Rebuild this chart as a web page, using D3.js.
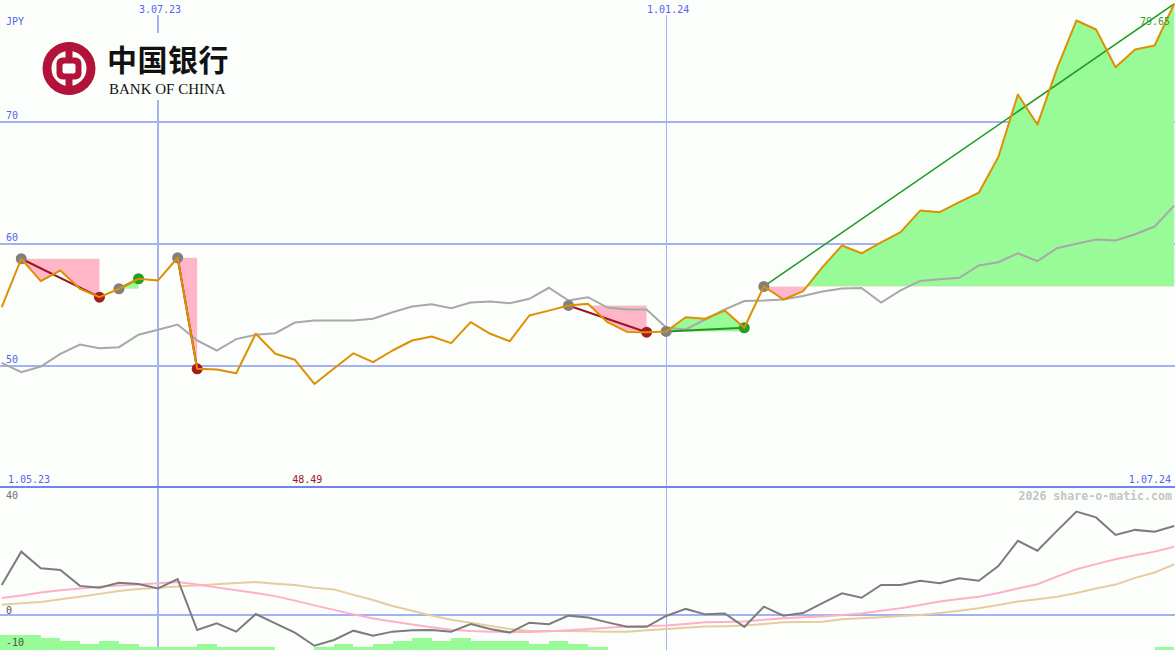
<!DOCTYPE html>
<html>
<head>
<meta charset="utf-8">
<script src="https://cdn.jsdelivr.net/npm/d3@7"></script>
<style>
  body { margin: 0; background: #fbfefb; }
  text { font-family: "DejaVu Sans Mono", monospace; }
</style>
</head>
<body>
<div id="chart"></div>
<script>
const width = 1175;
const height = 650;

// weekly closes, JPY
const price = [54.78, 58.75, 56.91, 57.79, 56.29, 55.6, 56.29, 57.11, 56.97, 58.83,
  49.73, 49.67, 49.37, 52.6, 50.96, 50.47, 48.49, 49.75, 51.0, 50.27,
  51.23, 52.05, 52.38, 51.83, 53.55, 52.6, 51.99, 54.1, 54.5, 54.92,
  55.06, 53.55, 52.75, 52.73, 52.79, 53.96, 53.83, 54.5, 53.09, 56.48,
  55.41, 56.07, 58.06, 59.84, 59.2, 60.1, 60.93, 62.7, 62.57, 63.39,
  64.16, 67.09, 72.21, 69.75, 74.34, 78.28, 77.54, 74.45, 75.9, 76.23,
  79.65];

const average = [50.22, 49.45, 49.92, 50.96, 51.72, 51.42, 51.5, 52.52, 52.93, 53.36,
  52.05, 51.23, 52.16, 52.52, 52.65, 53.52, 53.69, 53.69, 53.69, 53.83,
  54.37, 54.84, 55.02, 54.7, 55.16, 55.25, 55.11, 55.47, 56.37, 55.33,
  55.6, 54.75, 54.59, 54.59, 53.11, 52.95, 53.77, 54.59, 55.29, 55.33,
  55.41, 55.7, 56.07, 56.31, 56.35, 55.16, 56.15, 56.93, 57.07, 57.19,
  58.2, 58.47, 59.2, 58.55, 59.61, 59.98, 60.33, 60.25, 60.76, 61.39,
  63.11];

const momentum = [9.4, 19.8, 14.6, 14.1, 9.1, 8.5, 10.1, 9.7, 8.3, 11.2,
  -4.7, -2.6, -5.2, 0.3, -2.6, -5.5, -9.6, -7.8, -4.9, -6.5,
  -5.2, -4.8, -4.7, -5.2, -2.8, -4.4, -5.5, -2.4, -2.9, -0.2,
  -0.8, -2.3, -3.7, -3.7, -0.3, 1.9, 0.2, 0.5, -3.7, 2.6,
  -0.2, 0.6, 3.7, 6.8, 5.4, 9.4, 9.4, 10.7, 9.9, 11.5,
  10.7, 15.3, 23.2, 20.1, 26.3, 32.3, 30.5, 25.0, 26.6, 26.0,
  27.8];

const fastLine = [5.3, 6.1, 7.0, 7.7, 8.3, 8.8, 9.2, 9.5, 9.9, 10.3,
  9.5, 8.6, 7.7, 6.9, 5.9, 4.5, 3.0, 1.6, 0.2, -1.1,
  -2.0, -3.0, -3.8, -4.6, -5.0, -5.2, -5.3, -5.3, -5.1, -4.8,
  -4.4, -4.0, -3.6, -3.4, -3.3, -2.8, -2.3, -2.2, -2.0, -1.5,
  -1.0, -0.7, -0.5, 0.0, 0.5, 1.3, 2.1, 3.1, 4.2, 5.0,
  5.7, 6.9, 8.3, 9.6, 12.0, 14.3, 15.9, 17.4, 18.7, 19.8,
  21.3];

const slowLine = [3.2, 3.7, 4.1, 4.9, 5.7, 6.6, 7.5, 8.1, 8.5, 8.9,
  9.2, 9.6, 10.0, 10.3, 9.8, 9.4, 8.5, 8.0, 6.3, 4.7,
  2.8, 1.3, -0.2, -1.5, -2.4, -3.4, -4.4, -5.0, -5.0, -5.0,
  -5.1, -5.2, -5.2, -4.8, -4.4, -4.0, -3.6, -3.5, -3.3, -2.8,
  -2.3, -2.2, -2.1, -1.3, -1.0, -0.7, -0.3, 0.0, 0.6, 1.3,
  2.1, 3.1, 4.2, 4.9, 5.7, 6.9, 8.3, 9.5, 11.6, 13.3,
  15.8];

const bars = [5, 5, 5, 4, 3, 2, 3, 2, 1, 1,
  1, 2, 1, 1, 1, 0, 0, 1, 2, 1,
  2, 3, 4, 3, 4, 3, 3, 3, 2, 3,
  2, 1, 0, 0, 0, 0, 0, 0, 0, 0,
  0, 0, 0, 0, 0, 0, 0, 0, 0, 0,
  0, 0, 0, 0, 0, 0, 0, 0, 0, 0,
  1];

// entry / exit as positions in the weekly series
const trades = [
  { from: 1, to: 5 },
  { from: 6, to: 7 },
  { from: 9, to: 10 },
  { from: 29, to: 33 },
  { from: 34, to: 38 },
  { from: 39, to: 60, open: true }
];

const priceTicks = [50, 60, 70];
const lowerTicks = [40, 0, -10];
const dateTicks = [new Date(Date.UTC(2023, 6, 3)), new Date(Date.UTC(2024, 0, 1))];
const dateTickLabels = ["3.07.23", "1.01.24"];

const startDate = new Date(Date.UTC(2023, 4, 1));
const endDate = new Date(Date.UTC(2024, 6, 1));
const dates = price.map((_, i) => d3.utcDay.offset(startDate, 7 * (i + 1)));

const grid = "#a4b2f2";
const blue = "#5464f0";
const green = "#98fb98";
const pink = "#ffb6c8";

const x = d3.scaleUtc().domain([startDate, endDate]).range([-17.8, 1174.2]);
const y = d3.scaleLinear().domain([50, 70]).range([365.5, 121.5]);
const y2 = d3.scaleLinear().domain([-10, 40]).range([647, 487]);
const yBar = d3.scaleLinear().domain([0, 5]).range([650, 635]);

const svg = d3.select("#chart").append("svg")
  .attr("width", width).attr("height", height)
  .style("display", "block");

svg.append("rect").attr("width", width).attr("height", height).attr("fill", "#fbfefb");

// grid
const gridG = svg.append("g").attr("shape-rendering", "crispEdges");
gridG.selectAll(".hg").data(priceTicks).join("line")
  .attr("x1", 0).attr("x2", width)
  .attr("y1", d => y(d)).attr("y2", d => y(d))
  .attr("stroke", grid).attr("stroke-width", 2);
gridG.append("line")
  .attr("x1", 0).attr("x2", width).attr("y1", y2(0)).attr("y2", y2(0))
  .attr("stroke", grid).attr("stroke-width", 2);
gridG.selectAll(".vg").data(dateTicks).join("line")
  .attr("x1", d => x(d)).attr("x2", d => x(d))
  .attr("y1", 15).attr("y2", height)
  .attr("stroke", grid).attr("stroke-width", (d, i) => i === 0 ? 2 : 1);
gridG.append("line")
  .attr("x1", 0).attr("x2", width).attr("y1", 487).attr("y2", 487)
  .attr("stroke", "#7282f0").attr("stroke-width", 2);

// trade areas
const defs = svg.append("defs");
const areaG = svg.append("g");
trades.forEach((t, k) => {
  const idx = d3.range(t.from, t.to + 1);
  const level = y(price[t.from]);
  defs.append("clipPath").attr("id", `up${k}`)
    .append("rect").attr("x", 0).attr("y", 0).attr("width", width).attr("height", level);
  defs.append("clipPath").attr("id", `dn${k}`)
    .append("rect").attr("x", 0).attr("y", level).attr("width", width).attr("height", 487 - level);
  const area = d3.area()
    .x(i => x(dates[i]))
    .y0(level)
    .y1(i => y(price[i]));
  areaG.append("path").attr("d", area(idx)).attr("fill", green).attr("clip-path", `url(#up${k})`);
  areaG.append("path").attr("d", area(idx)).attr("fill", pink).attr("clip-path", `url(#dn${k})`);
});

const line = (arr, sy) => d3.line().x((d, i) => x(dates[i])).y(d => sy(d))(arr);

// average line
svg.append("path").attr("d", line(average, y))
  .attr("fill", "none").attr("stroke", "#a8a8a8").attr("stroke-width", 2);

// trade lines
trades.forEach(t => {
  const win = price[t.to] >= price[t.from];
  svg.append("line")
    .attr("x1", x(dates[t.from])).attr("y1", y(price[t.from]))
    .attr("x2", x(dates[t.to])).attr("y2", y(price[t.to]))
    .attr("stroke", win ? "#1e9a1e" : "#a01424")
    .attr("stroke-width", t.open ? 1.5 : 2);
});

// markers
const dots = [];
trades.forEach(t => {
  dots.push({ i: t.from, c: "#808080" });
  if (!t.open) dots.push({ i: t.to, c: price[t.to] >= price[t.from] ? "#22a022" : "#a41c1c" });
});
svg.selectAll(".dot").data(dots).join("circle")
  .attr("cx", d => x(dates[d.i])).attr("cy", d => y(price[d.i]))
  .attr("r", 5.5).attr("fill", d => d.c);

// price
svg.append("path").attr("d", line(price, y))
  .attr("fill", "none").attr("stroke", "#dd9000").attr("stroke-width", 2)
  .attr("stroke-linejoin", "round");

// lower panel
svg.selectAll(".bar").data(bars).join("rect")
  .attr("x", (d, i) => x(d3.utcDay.offset(dates[i], -7)))
  .attr("width", (d, i) => x(dates[i]) - x(d3.utcDay.offset(dates[i], -7)))
  .attr("y", d => yBar(d))
  .attr("height", d => yBar(0) - yBar(d))
  .attr("fill", green)
  .attr("shape-rendering", "crispEdges");

svg.append("path").attr("d", line(slowLine, y2))
  .attr("fill", "none").attr("stroke", "#e6cc9e").attr("stroke-width", 2);
svg.append("path").attr("d", line(fastLine, y2))
  .attr("fill", "none").attr("stroke", "#ffb0c8").attr("stroke-width", 2);
svg.append("path").attr("d", line(momentum, y2))
  .attr("fill", "none").attr("stroke", "#7c7c7c").attr("stroke-width", 2);

// labels
const lab = svg.append("g").style("font-size", "10px");
lab.append("text").attr("x", 6).attr("y", 25).attr("fill", blue).text("JPY");
lab.selectAll(".pt").data(priceTicks).join("text")
  .attr("x", 6).attr("y", d => y(d) - 2.5).attr("fill", blue).text(d => d);
lab.selectAll(".dt").data(dateTicks).join("text")
  .attr("x", d => x(d) + 2).attr("y", 12.5).attr("text-anchor", "middle")
  .attr("fill", blue).text((d, i) => dateTickLabels[i]);
lab.append("text").attr("x", 8).attr("y", 483).attr("fill", blue).text("1.05.23");
lab.append("text").attr("x", 1171).attr("y", 483).attr("text-anchor", "end").attr("fill", blue).text("1.07.24");

const minIdx = d3.minIndex(price);
lab.append("text").attr("x", x(dates[minIdx]) + 8).attr("y", 483)
  .attr("text-anchor", "end").attr("fill", "#a01424").text(price[minIdx].toFixed(2));

lab.append("text").attr("x", 1170).attr("y", 25).attr("text-anchor", "end")
  .attr("fill", "#2ea02e").text(price[price.length - 1].toFixed(2));

lab.selectAll(".lt").data(lowerTicks).join("text")
  .attr("x", 6).attr("y", d => d === 40 ? 498.5 : y2(d) - 1.5)
  .attr("fill", d => d === 40 ? "#707070" : "#505050").text(d => d);

svg.append("text").attr("x", 1172).attr("y", 500).attr("text-anchor", "end")
  .style("font-size", "11.6px").style("font-weight", "bold")
  .attr("fill", "#c4c4c4").text("2026 share-o-matic.com");

// logo
const logo = svg.append("g");
logo.append("rect").attr("x", 36).attr("y", 33).attr("width", 198).attr("height", 67).attr("fill", "#fbfefb");
const cx = 69, cy = 68.5;
logo.append("circle").attr("cx", cx).attr("cy", cy).attr("r", 26.5).attr("fill", "#b3123a");
logo.append("circle").attr("cx", cx).attr("cy", cy).attr("r", 17.5).attr("fill", "#fbfefb");
logo.append("rect").attr("x", cx - 3.5).attr("y", cy - 26).attr("width", 7).attr("height", 52).attr("fill", "#b3123a");
logo.append("rect").attr("x", cx - 12.5).attr("y", cy - 11).attr("width", 25).attr("height", 22).attr("rx", 6).attr("fill", "#b3123a");
logo.append("rect").attr("x", cx - 6.5).attr("y", cy - 5).attr("width", 13).attr("height", 10).attr("rx", 2).attr("fill", "#fbfefb");
logo.append("text").attr("x", 107).attr("y", 71)
  .style("font-family", "'Noto Sans CJK SC'").style("font-size", "30px").style("font-weight", "bold")
  .style("letter-spacing", "0.5px").attr("fill", "#111").text("中国银行");
logo.append("text").attr("x", 109).attr("y", 94)
  .style("font-family", "'Liberation Serif', serif").style("font-size", "15px")
  .attr("fill", "#111").text("BANK OF CHINA");
</script>
</body>
</html>
